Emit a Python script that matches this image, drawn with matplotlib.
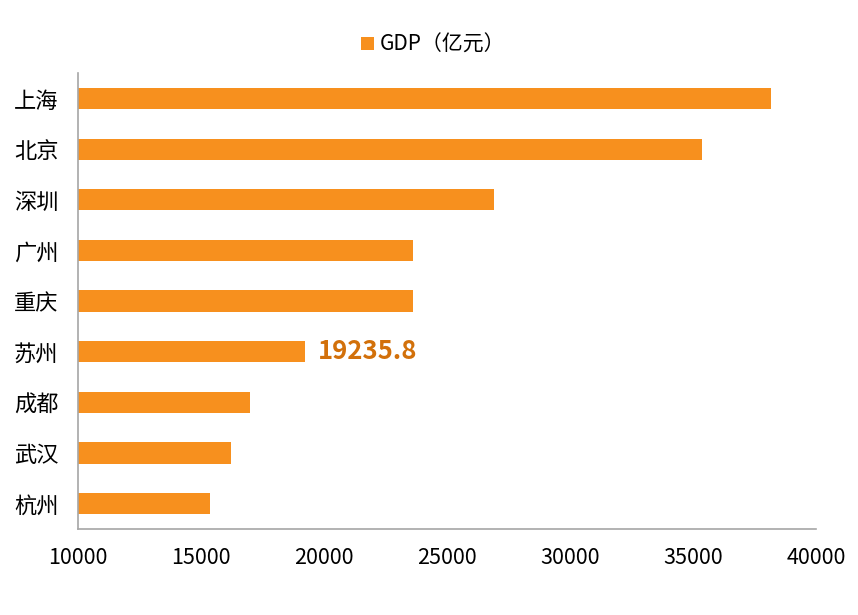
import matplotlib
matplotlib.use('Agg')
import matplotlib.pyplot as plt

plt.rcParams['font.family'] = ['Noto Sans CJK SC', 'DejaVu Sans']

cities = ['上海', '北京', '深圳', '广州', '重庆', '苏州', '成都', '武汉', '杭州']
gdp = [38155, 35371, 26927, 23628, 23605, 19235.8, 17012, 16223, 15373]
highlight = '苏州'

fig = plt.figure(figsize=(8.58, 6.15), dpi=100)
ax = fig.add_axes([0.0909, 0.1398, 0.8601, 0.7412])

pos = list(range(len(cities)))[::-1]
bars = ax.barh(pos, [v - 10000 for v in gdp], left=10000, height=0.42,
               color='#F7901E', label='GDP（亿元）')

ax.set_xlim(10000, 40000)
ax.set_ylim(-0.5, len(cities) - 0.5)
ax.set_xticks([10000, 15000, 20000, 25000, 30000, 35000, 40000])
ax.set_yticks(pos)
ax.set_yticklabels(cities)
ax.tick_params(axis='both', length=0, colors='#000000')
ax.tick_params(axis='x', pad=13, labelsize=15.5)
ax.tick_params(axis='y', pad=14, labelsize=16)

for s in ['top', 'right']:
    ax.spines[s].set_visible(False)
for s in ['left', 'bottom']:
    ax.spines[s].set_color('#A6A6A6')
    ax.spines[s].set_linewidth(1.2)

i = cities.index(highlight)
ax.annotate(f'{gdp[i]}', xy=(gdp[i], pos[i]), xytext=(9, 0),
            textcoords='offset points', va='center', ha='left',
            fontsize=18.5, fontweight='bold', color='#D2700A')

fig.legend(loc='upper center', bbox_to_anchor=(0.505, 0.975), frameon=False,
           fontsize=15, handlelength=0.6, handleheight=0.6, handletextpad=0.3)

fig.savefig('out.png', dpi=100)
